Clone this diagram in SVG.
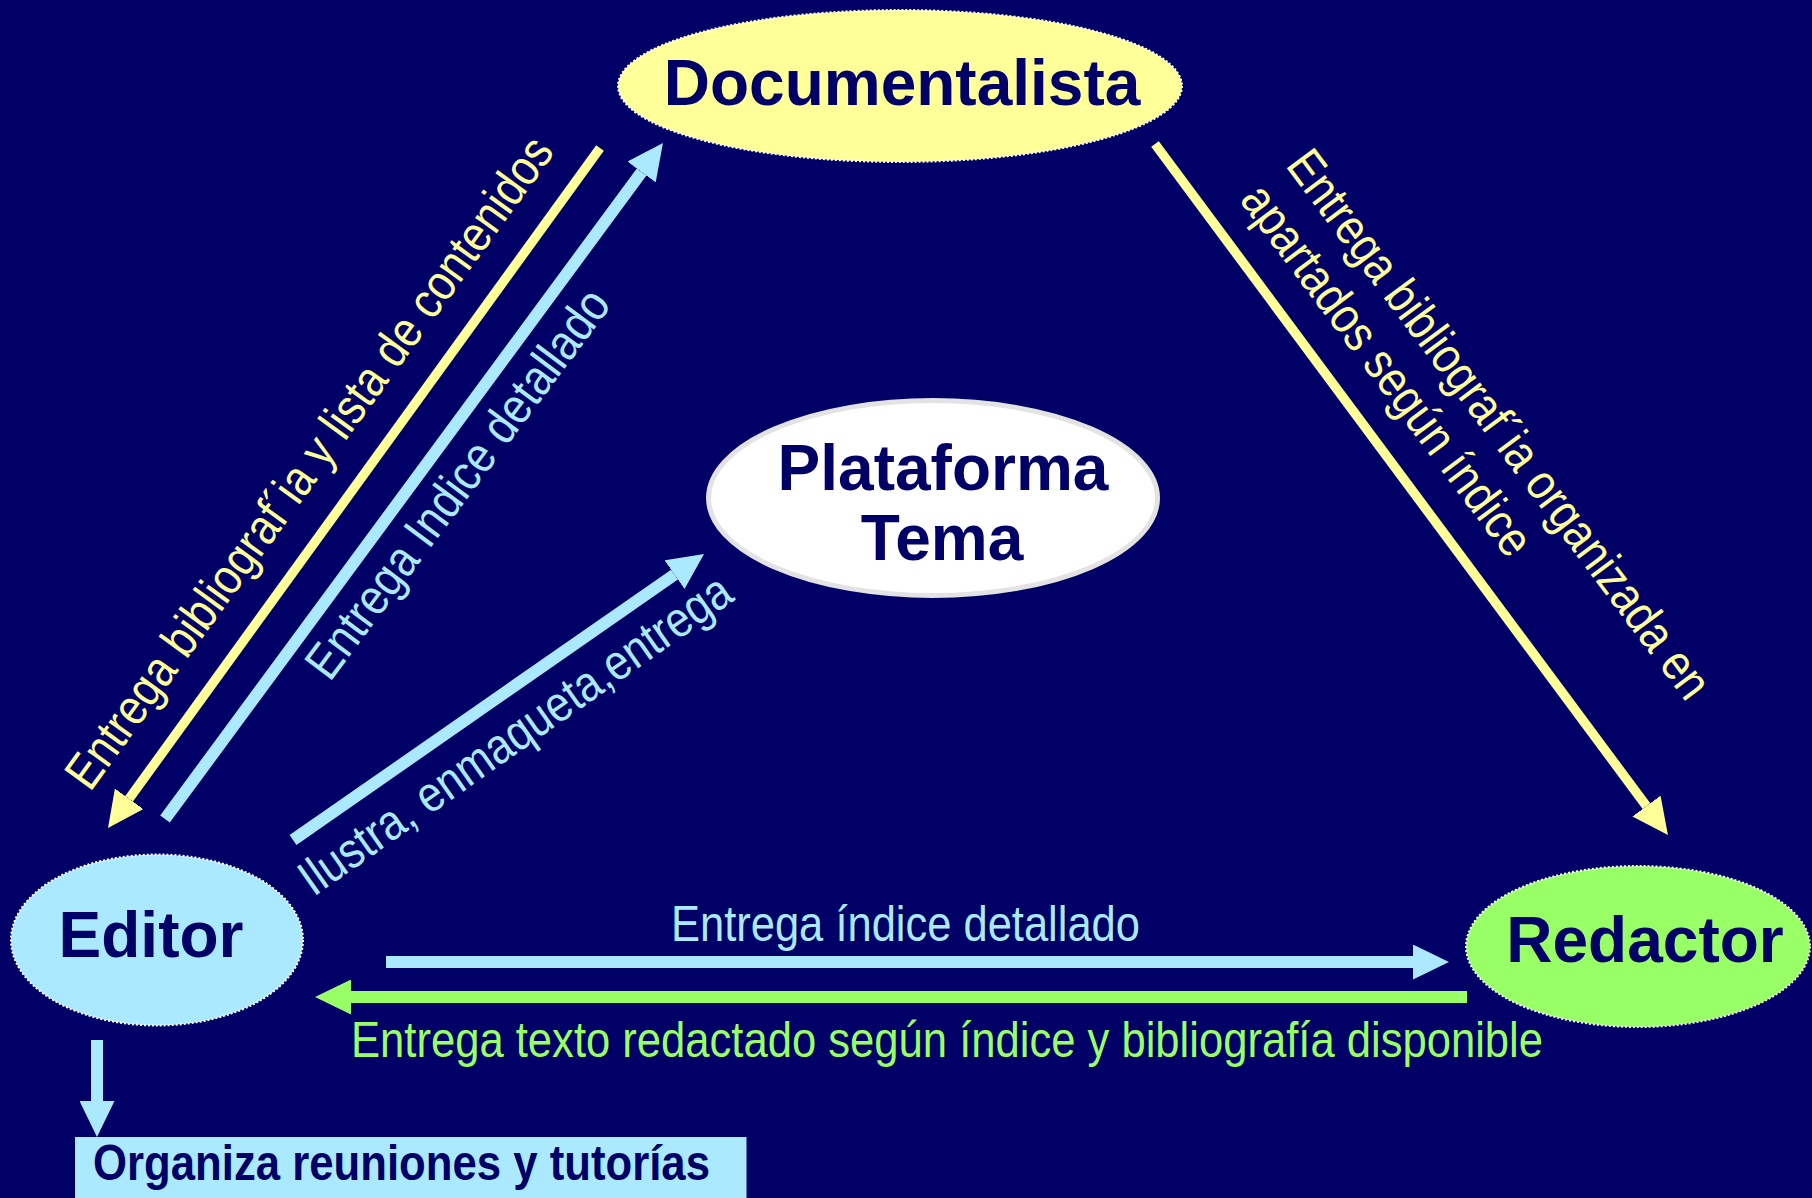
<svg xmlns="http://www.w3.org/2000/svg" width="1812" height="1198" viewBox="0 0 1812 1198">
<defs>
<style>
.nt{font-family:"Liberation Sans",Arial,Helvetica,sans-serif;font-weight:bold;font-size:64px;fill:#000066;text-anchor:middle}
.lbl{font-family:"Liberation Sans",Arial,Helvetica,sans-serif;font-size:50px}
.dot{stroke:#FFFFFF;stroke-width:2;stroke-dasharray:2 2}
.yl{stroke:#FFFF99;stroke-width:9.5;fill:none}
.cy{stroke:#AAE9FF;stroke-width:12;fill:none}
.gr{stroke:#99FF66;stroke-width:12;fill:none}
</style>
<marker id="ahY" markerUnits="userSpaceOnUse" markerWidth="36" markerHeight="35" viewBox="0 0 36 35" refX="0" refY="17.5" orient="auto"><path d="M0,0 L36,17.5 L0,35 Z" fill="#FFFF99"/></marker>
<marker id="ahC" markerUnits="userSpaceOnUse" markerWidth="36" markerHeight="35" viewBox="0 0 36 35" refX="0" refY="17.5" orient="auto"><path d="M0,0 L36,17.5 L0,35 Z" fill="#AAE9FF"/></marker>
<marker id="ahG" markerUnits="userSpaceOnUse" markerWidth="36" markerHeight="35" viewBox="0 0 36 35" refX="0" refY="17.5" orient="auto"><path d="M0,0 L36,17.5 L0,35 Z" fill="#99FF66"/></marker>
</defs>
<rect x="0" y="0" width="1812" height="1198" fill="#000066"/>

<g id="connectors">
<path class="yl" d="M600,148 L129.1,798.8" marker-end="url(#ahY)"/>
<path class="cy" d="M165,819 L641.6,172" marker-end="url(#ahC)"/>
<path class="cy" d="M293,840 L674.5,574.6" marker-end="url(#ahC)"/>
<path class="yl" d="M1155,144 L1646.5,806.1" marker-end="url(#ahY)"/>
<path class="cy" d="M386,962 L1413,962" marker-end="url(#ahC)"/>
<path class="gr" d="M1467,997 L351,997" marker-end="url(#ahG)"/>
<path class="cy" d="M97,1040 L97,1101" marker-end="url(#ahC)"/>
</g>

<g id="labels">
<text class="lbl" fill="#FFFF99" transform="translate(90,792.8) rotate(-54)" textLength="792" lengthAdjust="spacingAndGlyphs">Entrega bibliograf´ia y lista de contenidos</text>
<text class="lbl" fill="#AAE9FF" transform="translate(329.7,682.7) rotate(-53.2)" textLength="472" lengthAdjust="spacingAndGlyphs">Entrega Indice detallado</text>
<text class="lbl" fill="#AAE9FF" transform="translate(313.4,897.3) rotate(-35.2)" textLength="517" lengthAdjust="spacingAndGlyphs">Ilustra, enmaqueta,entrega</text>
<text class="lbl" fill="#FFFF99" transform="translate(1284.7,165.6) rotate(53.2)"><tspan x="0" y="0" textLength="671" lengthAdjust="spacingAndGlyphs">Entrega bibliograf´ia organizada en</tspan><tspan x="0" y="57.4" textLength="450" lengthAdjust="spacingAndGlyphs">apartados según índice</tspan></text>
<text class="lbl" fill="#AAE9FF" x="671" y="941" textLength="469" lengthAdjust="spacingAndGlyphs">Entrega índice detallado</text>
<text class="lbl" fill="#99FF66" x="351" y="1057" textLength="1192" lengthAdjust="spacingAndGlyphs">Entrega texto redactado según índice y bibliografía disponible</text>
</g>

<g id="documentalista">
<ellipse cx="900" cy="86" rx="282" ry="76" fill="#FFFF99" class="dot"/>
<text class="nt" x="902" y="105">Documentalista</text>
</g>

<g id="plataforma">
<ellipse cx="933" cy="498" rx="224.5" ry="97.5" fill="#FFFFFF" stroke="#E3E3E3" stroke-width="5"/>
<text class="nt" x="943" y="490">Plataforma</text>
<text class="nt" x="942" y="560">Tema</text>
</g>

<g id="editor">
<ellipse cx="157" cy="940" rx="146" ry="85.5" fill="#AAE9FF" class="dot"/>
<text class="nt" x="151" y="957">Editor</text>
</g>

<g id="redactor">
<ellipse cx="1638" cy="946.5" rx="172" ry="80.5" fill="#99FF66" class="dot"/>
<text class="nt" x="1645" y="962">Redactor</text>
</g>

<g id="organiza">
<rect x="75" y="1137" width="671.5" height="70" fill="#AAE9FF"/>
<text x="93" y="1180" font-family="Liberation Sans, Arial, Helvetica, sans-serif" font-weight="bold" font-size="50" fill="#000066" textLength="617" lengthAdjust="spacingAndGlyphs">Organiza reuniones y tutorías</text>
</g>
</svg>
